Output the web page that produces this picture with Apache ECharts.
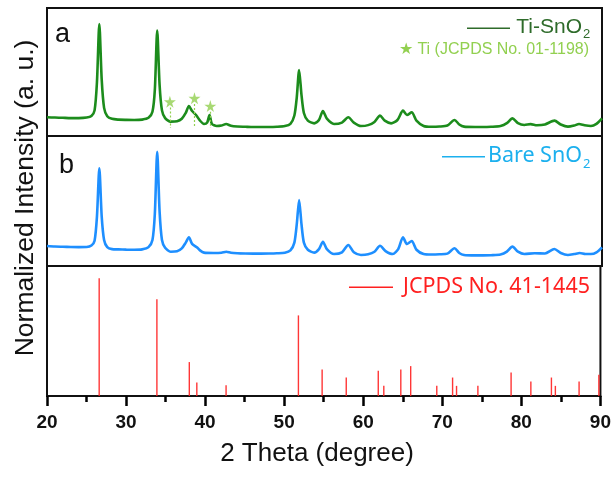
<!DOCTYPE html>
<html lang="en">
	<head>
		<meta charset="utf-8" />
		<title>XRD Ti-SnO2 / Bare SnO2</title>
		<style>
			html, body { margin: 0; padding: 0; background: #fff; }
		</style>
	</head>
	<body>
		<div id="main" style="width: 614px; height: 481px;"></div>

		<script src="https://cdn.jsdelivr.net/npm/echarts@6/dist/echarts.min.js"></script>
		<script type="text/javascript">
			// x range (2 theta, degree)
			const xMin = 20;
			const xMax = 90;
			const xStep = 10;

			// a: Ti-SnO2 pattern, [2theta, normalized intensity]
			const tiSnO2 = [
				[20, 14.6], [21, 14.4], [22, 14.2], [23, 14.0], [24, 14.0], [25, 14.4], [25.6, 15.6], [26.0, 20],
				[26.3, 42], [26.6, 87.5], [26.9, 44], [27.2, 22], [27.6, 15.5], [28.2, 13.4], [29, 12.8], [30, 12.6],
				[31, 12.5], [32, 12.8], [32.8, 14.2], [33.3, 19], [33.6, 36], [33.9, 82.3], [34.2, 40], [34.5, 20],
				[34.9, 14], [35.6, 11.2], [36.4, 11.5], [37.0, 13.5], [37.5, 18], [37.9, 23.4], [38.3, 19.5], [38.8, 16.4],
				[39.3, 12], [39.8, 9.4], [40.2, 10.5], [40.5, 16.4], [40.8, 9.5], [41.4, 7.8], [42.0, 8.2], [42.6, 9.4],
				[43.2, 8], [44, 7.4], [45, 7.2], [46, 7], [47, 7], [48, 7], [49, 7.2], [50, 7.8], [50.7, 9.5], [51.2, 16],
				[51.5, 30], [51.8, 51.6], [52.1, 32], [52.4, 18], [52.9, 12], [53.7, 9.9], [54.3, 12.5], [54.8, 19.5],
				[55.3, 13.5], [56.2, 9.4], [57.2, 10.5], [58.0, 14.6], [58.7, 10.5], [59.6, 7.8], [60.5, 8.5], [61.3, 11],
				[62.0, 15.9], [62.6, 12], [63.4, 9.9], [64.2, 12.5], [64.9, 19.8], [65.4, 16.4], [66.0, 18.5], [66.6, 12],
				[67.5, 7.8], [68.5, 7.2], [69.5, 7.4], [70.5, 8.2], [71.4, 12.5], [72.0, 9], [72.6, 7.3], [74, 7], [75, 7],
				[76, 7.2], [77.2, 7.8], [78.0, 10], [78.7, 13.8], [79.4, 10], [80.2, 8.6], [81.0, 9.3], [81.8, 8.4],
				[82.8, 9], [84.0, 12], [84.8, 9], [85.7, 7.3], [86.5, 8.2], [87.1, 9.4], [87.8, 8.4], [88.6, 7.8],
				[89.3, 9.5], [90, 13.8]
			];

			// Ti peaks marked with stars (JCPDS No. 01-1198)
			const tiStars = [[35.5, 26.8], [38.6, 29.5], [40.6, 23.4]];

			// b: bare SnO2 pattern
			const bareSnO2 = [
				[20, 15.4], [21, 15], [22, 14.8], [23, 14.6], [24, 14.5], [25, 14.6], [25.6, 15.8], [26.0, 19.5],
				[26.3, 38], [26.6, 75.1], [26.9, 38], [27.2, 20], [27.6, 14.5], [28.2, 13], [29, 12.8], [30, 12.6],
				[31, 12.5], [32, 12.8], [32.8, 14.5], [33.3, 20], [33.6, 40], [33.9, 87.9], [34.2, 42], [34.5, 20],
				[34.9, 14], [35.6, 11], [36.4, 11.3], [37.0, 13.5], [37.5, 18], [37.9, 22.1], [38.3, 17], [38.9, 14.4],
				[39.3, 12], [39.8, 10.3], [41, 10], [42, 10.2], [42.6, 11], [43.2, 10.2], [44, 9.8], [45, 9.6], [46, 9.5],
				[47, 9.5], [48, 9.6], [49, 9.8], [50, 10.2], [50.7, 12], [51.2, 18], [51.5, 32], [51.8, 50.8], [52.1, 32],
				[52.4, 18], [52.9, 12.5], [53.7, 10.3], [54.3, 13], [54.8, 18.7], [55.3, 13], [56.2, 9.2], [57.2, 10.5],
				[58.0, 16.2], [58.7, 10.5], [59.6, 8.5], [60.5, 9], [61.3, 11], [62.0, 15.6], [62.7, 11.5], [63.6, 9.2],
				[64.3, 13], [64.9, 22.1], [65.4, 16.9], [66.0, 19.2], [66.6, 12.5], [67.5, 9.2], [68.5, 8.8], [69.5, 9],
				[70.5, 9.5], [71.4, 13.6], [72, 10], [72.6, 8.5], [74, 8.2], [75, 8.2], [76, 8.3], [77.2, 8.8], [78, 11],
				[78.7, 14.9], [79.4, 11], [80.2, 9.2], [81.5, 9.8], [82.8, 9.6], [84.0, 13.1], [84.8, 10], [85.7, 8.5],
				[86.5, 9.2], [87.2, 10], [87.9, 9.2], [88.6, 9.2], [89.3, 10.5], [90, 14.4]
			];

			// c: reference lines JCPDS No. 41-1445
			const jcpds = [
				[26.6, 90.5], [33.9, 74.4], [38.0, 26.1], [38.95, 10.3], [42.65, 8.3], [51.8, 62.0], [54.8, 20.4],
				[57.85, 14.2], [61.9, 19.4], [62.6, 7.8], [64.75, 20.4], [66.0, 23.0], [69.3, 7.8], [71.3, 14.2],
				[71.8, 7.8], [74.5, 7.8], [78.7, 18.1], [81.2, 11.1], [83.8, 14.2], [84.3, 7.8], [87.3, 11.1], [89.8, 16.3]
			];

			const green = '#1c8c1c';
			const lightGreen = '#92d050';
			const blue = '#1e8fff';
			const red = '#ff2020';
			const starPath = 'path://M50,0 L61,35 L98,35 L68,57 L79,91 L50,70 L21,91 L32,57 L2,35 L39,35 Z';
			const arial = '"Liberation Sans", Arial, sans-serif';
			const sans = '"Noto Sans", "Open Sans", sans-serif';

			const myChart = echarts.init(document.getElementById('main'));

			// three stacked panels sharing the x range
			const grids = [
				{ left: 47, width: 555, top: 8, height: 128 },
				{ left: 47, width: 555, top: 136, height: 130 },
				{ left: 47, width: 555, top: 266, height: 130 },
			].map((g) => Object.assign(g, { show: true, borderColor: '#111', borderWidth: 2, backgroundColor: 'transparent' }));

			const xAxes = [0, 1, 2].map((i) => ({
				type: 'value',
				gridIndex: i,
				min: xMin,
				max: xMax,
				interval: xStep,
				show: i === 2,
				splitLine: { show: false },
				axisLine: { show: true, onZero: false, lineStyle: { color: '#111', width: 2 } },
				axisTick: { show: true, inside: false, length: 10, lineStyle: { color: '#000', width: 2.5 } },
				minorTick: { show: true, splitNumber: 2, length: 6, lineStyle: { color: '#000', width: 2.5 } },
				axisLabel: {
					show: true,
					margin: 17,
					color: '#111',
					fontFamily: arial,
					fontWeight: 'bold',
					fontSize: 19,
				},
			}));

			const yAxes = [0, 1, 2].map((i) => ({
				type: 'value',
				gridIndex: i,
				min: 0,
				max: 100,
				show: false,
			}));

			const option = {
				animation: false,
				grid: grids,
				xAxis: xAxes,
				yAxis: yAxes,
				series: [
					{
						type: 'scatter',
						xAxisIndex: 0,
						yAxisIndex: 0,
						data: tiStars,
						symbol: starPath,
						symbolSize: 12,
						itemStyle: { color: lightGreen },
						z: 2,
						markLine: {
							silent: true,
							symbol: 'none',
							label: { show: false },
							lineStyle: { color: lightGreen, type: [2, 2], width: 1.2 },
							data: tiStars.map((p) => [{ coord: [p[0], p[1] - 4.5] }, { coord: [p[0], 6.2] }]),
						},
					},
					{
						type: 'line',
						xAxisIndex: 0,
						yAxisIndex: 0,
						data: tiSnO2,
						showSymbol: false,
						smooth: 0.25,
						lineStyle: { color: green, width: 2.6 },
						z: 3,
					},
					{
						type: 'line',
						xAxisIndex: 1,
						yAxisIndex: 1,
						data: bareSnO2,
						showSymbol: false,
						smooth: 0.25,
						lineStyle: { color: blue, width: 2.6 },
					},
					{
						type: 'bar',
						xAxisIndex: 2,
						yAxisIndex: 2,
						data: jcpds,
						barWidth: 1.4,
						itemStyle: { color: red, opacity: 0.9 },
					},
				],
				graphic: [
					// panel letters
					{ type: 'text', x: 55, y: 34.8, style: { text: 'a', verticalAlign: 'middle', fontSize: 27, fontFamily: arial, fill: '#111' } },
					{ type: 'text', x: 59, y: 165.5, style: { text: 'b', verticalAlign: 'middle', fontSize: 27, fontFamily: arial, fill: '#111' } },

					// legend a
					{ type: 'line', shape: { x1: 467, y1: 28.3, x2: 510, y2: 28.3 }, style: { stroke: '#2e6b2a', lineWidth: 1.5 } },
					{ type: 'text', x: 582, y: 27.6, style: { text: 'Ti-SnO', align: 'right', verticalAlign: 'middle', fontSize: 21, fontFamily: arial, fill: '#2e6b2a' } },
					{ type: 'text', x: 583, y: 34.8, style: { text: '2', align: 'left', verticalAlign: 'middle', fontSize: 13, fontFamily: arial, fill: '#2e6b2a' } },
					{ type: 'text', x: 589, y: 49.4, style: { text: '\u2605 Ti (JCPDS No. 01-1198)', align: 'right', verticalAlign: 'middle', fontSize: 16, fontFamily: arial, fill: lightGreen } },

					// legend b
					{ type: 'line', shape: { x1: 442, y1: 156.7, x2: 485, y2: 156.7 }, style: { stroke: '#1cb0ee', lineWidth: 1.5 } },
					{ type: 'text', x: 582, y: 156, style: { text: 'Bare SnO', align: 'right', verticalAlign: 'middle', fontSize: 21.5, fontFamily: sans, fill: '#1cb0ee' } },
					{ type: 'text', x: 583, y: 163.8, style: { text: '2', align: 'left', verticalAlign: 'middle', fontSize: 13, fontFamily: sans, fill: '#1cb0ee' } },

					// legend c
					{ type: 'line', shape: { x1: 349, y1: 287.3, x2: 393, y2: 287.3 }, style: { stroke: red, lineWidth: 1.5 } },
					{ type: 'text', x: 590, y: 286.6, style: { text: 'JCPDS No. 41-1445', align: 'right', verticalAlign: 'middle', fontSize: 21.5, fontFamily: sans, fill: red } },

					// axis titles
					{ type: 'text', x: 317, y: 453.6, style: { text: '2 Theta (degree)', align: 'center', verticalAlign: 'middle', fontSize: 26, fontFamily: arial, fill: '#111' } },
					{ type: 'text', x: 26, y: 198, rotation: Math.PI / 2, style: { text: 'Normalized Intensity (a. u.)', align: 'center', verticalAlign: 'middle', fontSize: 26.5, fontFamily: arial, fill: '#111' } },
				],
			};

			myChart.setOption(option);
		</script>
	</body>
</html>
